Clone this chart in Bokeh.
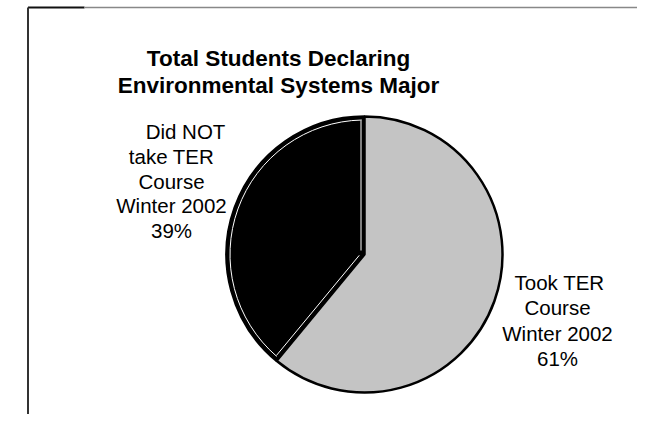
import math
from bokeh.plotting import figure
from bokeh.models import Range1d
from bokeh.core.properties import value
from bokeh.embed import file_html
from bokeh.resources import INLINE

# ---- data ----
title_lines = ["Total Students Declaring", "Environmental Systems Major"]
categories = ["Did NOT\ntake TER\nCourse\nWinter 2002", "Took TER\nCourse\nWinter 2002"]
percents = [39, 61]
colors = ["#000000", "#c4c4c4"]

W, H = 637, 414
FONT = "Liberation Sans"


def X(px):
    return px


def Y(py):
    return H - py


p = figure(width=W, height=H, x_range=Range1d(0, W), y_range=Range1d(0, H),
           output_backend="svg", toolbar_location=None, min_border=0,
           outline_line_color=None, background_fill_color="white",
           border_fill_color="white")
p.axis.visible = False
p.grid.visible = False

# frame lines (partial box)
p.line([X(27.5), X(84)], [Y(7), Y(7)], line_color="#111111", line_width=2)
p.line([X(84), W], [Y(7), Y(7)], line_color="#888888", line_width=1.5)
p.line([X(27.5), X(27.5)], [Y(7), 0], line_color="#333333", line_width=2)

# pie
cx, cy, r = X(364), Y(254), 138
total = sum(percents)
starts, ends = [], []
acc = math.pi / 2
for v in percents:
    starts.append(acc)
    acc += 2 * math.pi * v / total
    ends.append(acc)

p.wedge(x=[cx] * len(percents), y=[cy] * len(percents), radius=r,
        start_angle=starts, end_angle=ends, fill_color=colors,
        line_color="black", line_width=2.5)

# white inner outline of dark slice
a0, a1 = starts[0], ends[0]
p.arc(x=cx, y=cy, radius=r - 3.5, start_angle=a0 + 0.02, end_angle=a1 - 0.02,
      line_color="white", line_width=1)
off = 3.5
for a, perp in [(a0, a0 + math.pi / 2), (a1, a1 - math.pi / 2)]:
    ox, oy = off * math.cos(perp), off * math.sin(perp)
    p.line([cx + ox + 4 * math.cos(a), cx + ox + (r - 4) * math.cos(a)],
           [cy + oy + 4 * math.sin(a), cy + oy + (r - 4) * math.sin(a)],
           line_color="white", line_width=1)

# title
p.text(x=[X(278)] * 2, y=[Y(58), Y(85)], text=title_lines,
       text_font=value(FONT), text_font_style="bold", text_font_size="22.5px",
       text_align="center", text_baseline="alphabetic", text_color="black")

# slice labels
label_specs = [
    (X(171), Y(131), 24.8, [14, 0, 0, 0, 0]),
    (X(557), Y(282), 25.4, [2, 0, 0, 0]),
]
for (lx, ly, lh, offs), cat, pct in zip(label_specs, categories, percents):
    lines = cat.split("\n") + [f"{pct}%"]
    xs = [lx + offs[i] for i in range(len(lines))]
    ys = [ly - i * lh for i in range(len(lines))]
    p.text(x=xs, y=ys, text=lines, text_font=value(FONT), text_font_size="20.5px",
           text_align="center", text_baseline="alphabetic", text_color="black")

open("out.html", "w").write(file_html(p, INLINE))
